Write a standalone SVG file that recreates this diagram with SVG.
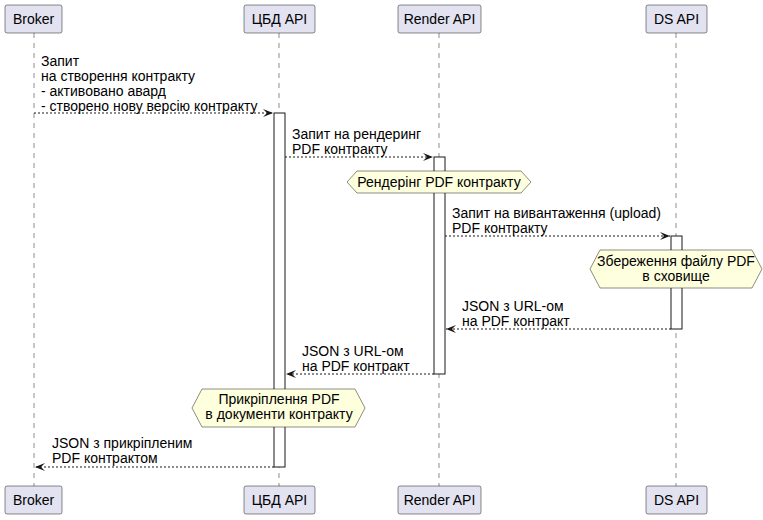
<svg xmlns="http://www.w3.org/2000/svg" width="763" height="520" viewBox="0 0 763 520">
<defs>
<style>
.p rect{fill:#E2E2F0;stroke:#181818;stroke-width:0.5}
.p text{font-family:"Liberation Sans",Arial,sans-serif;font-size:14px;fill:#000;text-anchor:middle}
.life{stroke:#181818;stroke-width:0.5;stroke-dasharray:5,5}
.act{fill:#fff;stroke:#181818;stroke-width:1}
.msg{stroke:#181818;stroke-width:1;stroke-dasharray:2,2;fill:none}
.t{font-family:"Liberation Sans",Arial,sans-serif;font-size:14px;fill:#000}
.hx polygon{fill:#FEFFDD;stroke:#181818;stroke-width:0.5}
.hx text{font-family:"Liberation Sans",Arial,sans-serif;font-size:14px;fill:#000;text-anchor:middle}
</style>
<marker id="ah" viewBox="0 0 10 10" refX="10" refY="5" markerWidth="10" markerHeight="10" orient="auto-start-reverse" markerUnits="userSpaceOnUse"><path d="M0,1 L10,5 L0,9 L4,5 Z" fill="#181818"/></marker>
</defs>
<rect width="763" height="520" fill="#fff"/>
<g id="lifelines">
<line class="life" x1="34" y1="33" x2="34" y2="486"/>
<line class="life" x1="279" y1="33" x2="279" y2="486"/>
<line class="life" x1="439" y1="33" x2="439" y2="486"/>
<line class="life" x1="676" y1="33" x2="676" y2="486"/>
</g>
<g id="activations">
<rect class="act" x="274" y="113" width="11" height="354"/>
<rect class="act" x="434" y="157" width="11" height="217"/>
<rect class="act" x="671" y="236" width="11" height="93"/>
</g>
<g id="broker" class="p"><rect x="5" y="5" width="57" height="28" rx="2"/><text x="33.5" y="24">Broker</text><rect x="5" y="486" width="57" height="28" rx="2"/><text x="33.5" y="505">Broker</text></g>
<g id="cbd" class="p"><rect x="244" y="5" width="71" height="28" rx="2"/><text x="279.5" y="24">ЦБД API</text><rect x="244" y="486" width="71" height="28" rx="2"/><text x="279.5" y="505">ЦБД API</text></g>
<g id="render" class="p"><rect x="398" y="5" width="83" height="28" rx="2"/><text x="439.5" y="24">Render API</text><rect x="398" y="486" width="83" height="28" rx="2"/><text x="439.5" y="505">Render API</text></g>
<g id="ds" class="p"><rect x="646" y="5" width="61" height="28" rx="2"/><text x="676.5" y="24">DS API</text><rect x="646" y="486" width="61" height="28" rx="2"/><text x="676.5" y="505">DS API</text></g>
<g id="connectors">
<line class="msg" x1="34" y1="113" x2="273" y2="113" marker-end="url(#ah)"/>
<line class="msg" x1="285" y1="157" x2="433" y2="157" marker-end="url(#ah)"/>
<line class="msg" x1="445" y1="236" x2="670" y2="236" marker-end="url(#ah)"/>
<line class="msg" x1="671" y1="329" x2="446" y2="329" marker-end="url(#ah)"/>
<line class="msg" x1="434" y1="374" x2="286" y2="374" marker-end="url(#ah)"/>
<line class="msg" x1="274" y1="467" x2="35" y2="467" marker-end="url(#ah)"/>
</g>
<g id="labels">
<text class="t" x="41" y="66">Запит</text>
<text class="t" x="41" y="81">на створення контракту</text>
<text class="t" x="41" y="96">- активовано авард</text>
<text class="t" x="41" y="111">- створено нову версію контракту</text>
<text class="t" x="292" y="139">Запит на рендеринг</text>
<text class="t" x="292" y="154">PDF контракту</text>
<text class="t" x="452" y="218">Запит на вивантаження (upload)</text>
<text class="t" x="452" y="233">PDF контракту</text>
<text class="t" x="462" y="311">JSON з URL-ом</text>
<text class="t" x="462" y="326">на PDF контракт</text>
<text class="t" x="302" y="356">JSON з URL-ом</text>
<text class="t" x="302" y="371">на PDF контракт</text>
<text class="t" x="52" y="448">JSON з прикріпленим</text>
<text class="t" x="52" y="463">PDF контрактом</text>
</g>
<g id="note1" class="hx"><polygon points="347,182 357,171 521,171 531,182 521,193 357,193"/><text x="439" y="187">Рендерінг PDF контракту</text></g>
<g id="note2" class="hx"><polygon points="590,269 600,250 752,250 762,269 752,288 600,288"/><text x="676" y="266">Збереження файлу PDF</text><text x="676" y="281">в сховище</text></g>
<g id="note3" class="hx"><polygon points="192,408 202,389 355,389 365,408 355,427 202,427"/><text x="279" y="404">Прикріплення PDF</text><text x="279" y="419">в документи контракту</text></g>
</svg>
